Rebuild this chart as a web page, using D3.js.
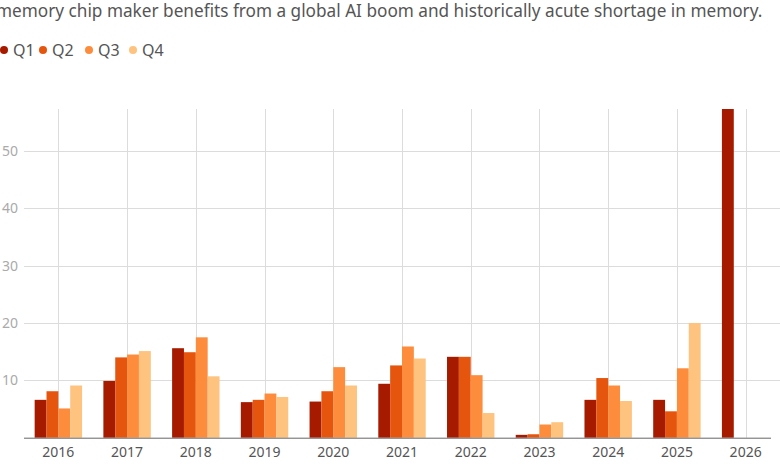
<!DOCTYPE html>
<html>
<head>
<meta charset="utf-8">
<script src="https://cdn.jsdelivr.net/npm/d3@7"></script>
<style>
  body { margin: 0; background: #fff; }
  svg { display: block; font-family: "Noto Sans", sans-serif; }
</style>
</head>
<body>
<div id="chart-container" style="width:780px;height:470px"></div>
<script>
const years = ["2016", "2017", "2018", "2019", "2020", "2021", "2022", "2023", "2024", "2025", "2026"];
const quarters = ["Q1", "Q2", "Q3", "Q4"];
const q1 = [6.6, 9.9, 15.6, 6.2, 6.3, 9.4, 14.1, 0.5, 6.6, 6.6, 57.3];
const q2 = [8.1, 14.0, 14.9, 6.6, 8.1, 12.6, 14.1, 0.6, 10.4, 4.6, null];
const q3 = [5.1, 14.5, 17.5, 7.7, 12.3, 15.9, 10.9, 2.3, 9.1, 12.1, null];
const q4 = [9.1, 15.1, 10.7, 7.1, 9.1, 13.8, 4.3, 2.7, 6.4, 20.0, null];
const yTicks = [10, 20, 30, 40, 50];
const colors = ["#a61a00", "#e6550d", "#fd8d3c", "#fdc37f"];
const subtitle = "memory chip maker benefits from a global AI boom and historically acute shortage in memory.";

const series = [q1, q2, q3, q4];

const width = 780;
const height = 470;
const margin = { top: 109, right: 0, bottom: 32, left: 24 };

const svg = d3
  .select("#chart-container")
  .append("svg")
  .attr("width", width)
  .attr("height", height);

// subtitle is clipped at the left edge, as in the original
svg
  .append("text")
  .attr("x", -4)
  .attr("y", 17)
  .attr("fill", "#555")
  .style("font-size", "17.2px")
  .text(subtitle);

// legend
const legend = svg.append("g").attr("transform", "translate(0, 50)");
const legendX = [4, 43, 89, 133];
quarters.forEach((q, i) => {
  legend.append("circle").attr("cx", legendX[i]).attr("cy", 0).attr("r", 4).attr("fill", colors[i]);
  legend
    .append("text")
    .attr("x", legendX[i] + 9)
    .attr("y", 0)
    .attr("dy", "0.36em")
    .attr("fill", "#555")
    .style("font-size", "16px")
    .text(q);
});

const x = d3
  .scaleBand()
  .domain(years)
  .range([margin.left, width - margin.right]);

const xInner = d3
  .scaleBand()
  .domain(quarters)
  .range([0, x.bandwidth() * 0.69]);

const y = d3
  .scaleLinear()
  .domain([0, d3.max(q1)])
  .range([height - margin.bottom - 0.3, margin.top]);

// horizontal grid
svg
  .append("g")
  .selectAll("line")
  .data(yTicks)
  .join("line")
  .attr("x1", margin.left)
  .attr("x2", width)
  .attr("y1", (d) => Math.round(y(d)) + 0.5)
  .attr("y2", (d) => Math.round(y(d)) + 0.5)
  .attr("stroke", "#dcdcdc");

svg
  .append("g")
  .selectAll("text")
  .data(yTicks)
  .join("text")
  .attr("x", 18)
  .attr("y", (d) => y(d))
  .attr("dy", "0.36em")
  .attr("text-anchor", "end")
  .attr("fill", "#aaa")
  .style("font-size", "14px")
  .text((d) => d);

// vertical grid
svg
  .append("g")
  .selectAll("line")
  .data(years)
  .join("line")
  .attr("x1", (d) => Math.round(x(d) + x.bandwidth() / 2) + 0.5)
  .attr("x2", (d) => Math.round(x(d) + x.bandwidth() / 2) + 0.5)
  .attr("y1", margin.top)
  .attr("y2", y(0))
  .attr("stroke", "#dcdcdc");

// bars
const groups = svg
  .append("g")
  .selectAll("g")
  .data(years)
  .join("g")
  .attr("transform", (d) => `translate(${x(d) + x.bandwidth() * 0.155}, 0)`);

groups
  .selectAll("rect")
  .data((d, i) => quarters.map((q, j) => ({ q, v: series[j][i], c: colors[j] })).filter((b) => b.v != null))
  .join("rect")
  .attr("x", (d) => xInner(d.q))
  .attr("width", xInner.bandwidth())
  .attr("y", (d) => y(d.v))
  .attr("height", (d) => y(0) - y(d.v))
  .attr("fill", (d) => d.c);

// baseline
svg
  .append("line")
  .attr("x1", margin.left)
  .attr("x2", 771)
  .attr("y1", y(0) + 0.5)
  .attr("y2", y(0) + 0.5)
  .attr("stroke", "#666");

const xAxis = svg
  .append("g")
  .attr("transform", `translate(0, ${y(0)})`)
  .call(d3.axisBottom(x).tickSize(0).tickPadding(9));
xAxis.select(".domain").remove();
xAxis
  .selectAll("text")
  .attr("fill", "#555")
  .style("font-family", "Noto Sans, sans-serif")
  .style("font-size", "14px");
</script>
</body>
</html>
